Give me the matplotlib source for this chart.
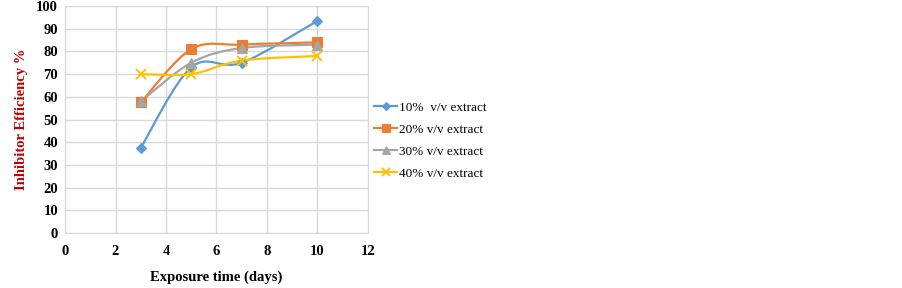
import numpy as np
import matplotlib.pyplot as plt
from matplotlib.path import Path
from matplotlib.patches import PathPatch
from matplotlib.lines import Line2D

# exposure time (days) and inhibitor efficiency (%)
days = [3, 5, 7, 10]
ext10 = [37.5, 73.0, 75.0, 93.5]
ext20 = [57.5, 81.0, 83.0, 84.0]
ext30 = [58.0, 75.0, 81.5, 83.0]
ext40 = [70.0, 70.0, 76.0, 78.0]

labels = ['10%  v/v extract', '20% v/v extract', '30% v/v extract', '40% v/v extract']
colors = ['#5b9bd5', '#ed7d31', '#a5a5a5', '#ffc000']
markers = ['D', 's', '^', 'x']
msizes = [5, 7, 7, 7]

plt.rcParams['font.family'] = ['Liberation Serif', 'DejaVu Serif']


def smooth_path(x, y, k=1/6.):
    # excel style smoothed line: cubic bezier through the points
    p = np.column_stack([x, y]).astype(float)
    n = len(p)
    verts = [p[0]]
    codes = [Path.MOVETO]
    for i in range(n - 1):
        p0 = p[i - 1] if i > 0 else p[i]
        p3 = p[i + 2] if i + 2 < n else p[i + 1]
        c1 = p[i] + (p[i + 1] - p0) * k
        c2 = p[i + 1] - (p3 - p[i]) * k
        verts += [c1, c2, p[i + 1]]
        codes += [Path.CURVE4] * 3
    return Path(verts, codes)


fig = plt.figure(figsize=(9.03, 2.88), dpi=100)
ax = fig.add_axes([0.072, 0.191, 0.3355, 0.788])

handles = []
for ys, c, m, ms, lab in zip([ext10, ext20, ext30, ext40], colors, markers, msizes, labels):
    ax.add_patch(PathPatch(smooth_path(days, ys), facecolor='none', edgecolor=c, lw=1.6, zorder=3))
    mew = 1.4 if m == 'x' else 0.8
    ax.plot(days, ys, ls='none', marker=m, ms=ms, color=c, mec=c, mew=mew, zorder=4)
    handles.append(Line2D([], [], color=c, lw=1.6, marker=m, ms=ms - 1, mew=mew, label=lab))

ax.set_xlim(0, 12)
ax.set_ylim(0, 100)
ax.set_xticks(np.arange(0, 13, 2))
ax.set_yticks(np.arange(0, 101, 10))
ax.grid(True, color='#d9d9d9', lw=1)
ax.set_axisbelow(True)
for s in ax.spines.values():
    s.set_color('#d9d9d9')
ax.tick_params(length=0, labelsize=10.5, pad=5)
ax.tick_params(axis='x', pad=9)
for t in ax.get_xticklabels() + ax.get_yticklabels():
    t.set_fontweight('bold')

ax.set_xlabel('Exposure time (days)', fontsize=10.5, fontweight='bold', labelpad=9)
ax.set_ylabel('Inhibitor Efficiency %', fontsize=10.5, fontweight='bold', color='#c00000', labelpad=6)

fig.legend(handles=handles, loc='center left', bbox_to_anchor=(0.401, 0.512), frameon=False,
           fontsize=9.5, handlelength=1.75, handletextpad=0.15, labelspacing=0.74)

fig.savefig('out.png', dpi=100)
